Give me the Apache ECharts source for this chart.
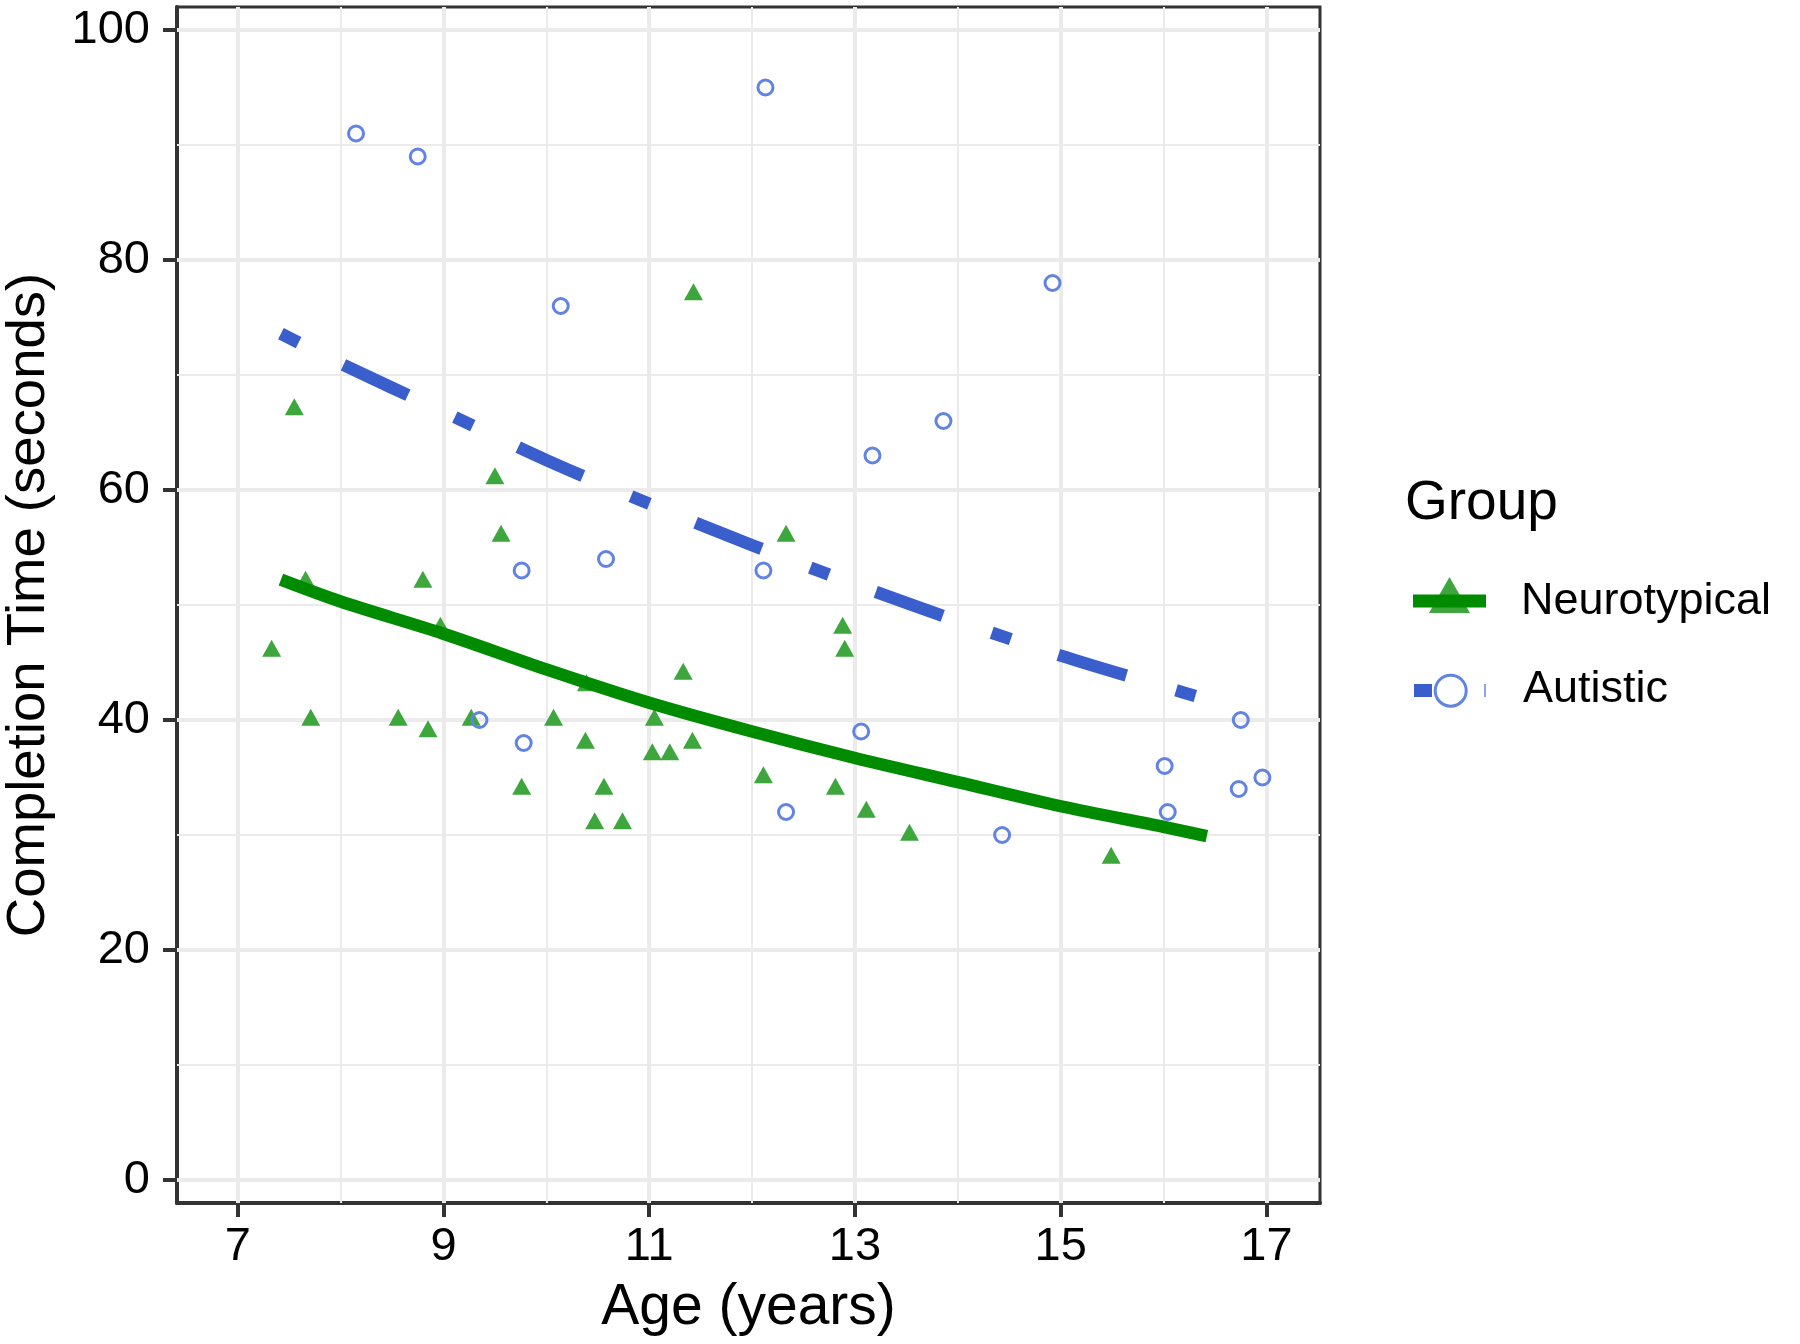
<!DOCTYPE html>
<html><head><meta charset="utf-8">
<script src="https://cdn.jsdelivr.net/npm/echarts@6/dist/echarts.min.js"></script>
<style>html,body{margin:0;padding:0;background:#fff}#c{width:1800px;height:1344px}</style>
</head><body><div id="c"></div>
<script>
// Neurotypical (triangles)
const ntAge  = [7.55, 11.43, 9.50, 9.56, 8.80, 7.66, 7.33, 7.71, 8.56, 8.85, 9.27, 8.97, 9.76, 10.07, 10.38, 10.39,
                10.56, 10.47, 10.74, 11.05, 11.03, 11.20, 11.33, 11.42, 12.88, 12.90, 12.11, 12.81, 13.11, 13.53, 15.49, 12.33];
const ntTime = [67, 77, 61, 56, 52, 52, 46, 40, 40, 39, 40, 48, 34, 40, 38, 43,
                34, 31, 31, 40, 37, 37, 44, 38, 48, 46, 35, 34, 32, 30, 28, 56];
// Autistic (open circles)
const auAge  = [8.15, 8.75, 12.13, 10.14, 14.92, 13.86, 13.17, 9.76, 10.58, 12.11, 9.35, 9.78, 13.06, 12.33, 14.43,
                16.01, 16.04, 16.75, 16.73, 16.96];
const auTime = [91, 89, 95, 76, 78, 66, 63, 53, 54, 53, 40, 38, 39, 32, 30, 36, 32, 40, 34, 35];
// fitted curves
const fitAge = [7.42, 8, 9, 10, 11, 12, 13, 14, 15, 16, 16.42];
const ntFit  = [52.2, 50.3, 47.5, 44.4, 41.5, 39.0, 36.7, 34.6, 32.5, 30.7, 29.9];
const auFit  = [73.6, 71.0, 66.8, 62.6, 58.8, 55.2, 51.8, 48.6, 45.6, 42.9, 41.8];
// ticks
const xMajor = [7, 9, 11, 13, 15, 17];
const xMinor = [8, 10, 12, 14, 16];
const yMajor = [0, 20, 40, 60, 80, 100];
const yMinor = [10, 30, 50, 70, 90];

const FONT = '"Liberation Sans", Arial, Helvetica, sans-serif';
const zip = (a, b) => a.map((v, i) => [v, b[i]]);

const gridLines = [];
xMinor.forEach(v => gridLines.push({xAxis: v, lineStyle: {width: 2}}));
yMinor.forEach(v => gridLines.push({yAxis: v, lineStyle: {width: 2}}));
xMajor.forEach(v => gridLines.push({xAxis: v, lineStyle: {width: 4}}));
yMajor.forEach(v => gridLines.push({yAxis: v, lineStyle: {width: 4}}));

const chart = echarts.init(document.getElementById('c'), null, {renderer: 'canvas'});
chart.setOption({
  animation: false,
  backgroundColor: '#fff',
  textStyle: {fontFamily: FONT},
  grid: {left: 177, right: 480, top: 7, bottom: 141, containLabel: false, outerBoundsMode: 'none',
         show: true, borderColor: '#333', borderWidth: 3, backgroundColor: 'transparent'},
  xAxis: {
    type: 'value', min: 6.41, max: 17.52,
    name: 'Age (years)', nameLocation: 'middle', nameGap: 77,
    nameTextStyle: {fontSize: 57, color: '#000', fontFamily: FONT},
    axisLine: {show: true, onZero: false, lineStyle: {color: '#333', width: 4}},
    axisTick: {show: true, customValues: xMajor, length: 14, lineStyle: {color: '#333', width: 4}},
    axisLabel: {customValues: xMajor, margin: 21, fontSize: 47, color: '#000', fontFamily: FONT},
    splitLine: {show: false}
  },
  yAxis: {
    type: 'value', min: -2, max: 102,
    name: 'Completion Time (seconds)', nameLocation: 'middle', nameGap: 121,
    nameTextStyle: {fontSize: 54.5, color: '#000', fontFamily: FONT},
    axisLine: {show: true, onZero: false, lineStyle: {color: '#333', width: 4}},
    axisTick: {show: true, customValues: yMajor, length: 14, lineStyle: {color: '#333', width: 4}},
    axisLabel: {customValues: yMajor, margin: 27, fontSize: 47, color: '#000', fontFamily: FONT},
    splitLine: {show: false}
  },
  series: [
    {
      type: 'line', data: [], z: 1, silent: true,
      markLine: {
        z: 1, silent: true, symbol: ['none', 'none'], animation: false,
        label: {show: false},
        lineStyle: {color: '#EBEBEB', type: 'solid'},
        emphasis: {disabled: true},
        data: gridLines
      }
    },
    {
      name: 'Neurotypical', type: 'scatter', z: 6,
      data: zip(ntAge, ntTime),
      symbol: 'triangle', symbolSize: [19, 17], symbolOffset: [0, -2.8],
      itemStyle: {color: '#3DA63D', opacity: 1}
    },
    {
      name: 'Autistic', type: 'scatter', z: 7,
      data: zip(auAge, auTime),
      symbol: 'circle', symbolSize: 15,
      itemStyle: {color: 'rgba(255,255,255,0)', borderColor: '#6183E4', borderWidth: 3, opacity: 1}
    },
    {
      name: 'Neurotypical fit', type: 'line', z: 8,
      data: zip(fitAge, ntFit), smooth: 0.3, showSymbol: false, symbol: 'none',
      lineStyle: {color: '#008B00', width: 12.5, cap: 'butt'}
    },
    {
      name: 'Autistic fit', type: 'line', z: 8,
      data: zip(fitAge, auFit), smooth: 0.3, showSymbol: false, symbol: 'none',
      lineStyle: {color: '#3A5FCD', width: 12.5, type: [20, 50, 71, 52], cap: 'butt'}
    }
  ],
  graphic: [
    {type: 'text', x: 1405, y: 504, style: {text: 'Group', fontSize: 55, fontFamily: FONT, fill: '#000', verticalAlign: 'middle', align: 'left'}},
    {type: 'polygon', shape: {points: [[1449.5, 577], [1470, 613], [1429, 613]]}, style: {fill: '#3DA63D'}},
    {type: 'rect', shape: {x: 1413, y: 594.5, width: 73, height: 13}, style: {fill: '#008B00'}},
    {type: 'text', x: 1521, y: 602, style: {text: 'Neurotypical', fontSize: 45, fontFamily: FONT, fill: '#000', verticalAlign: 'middle', align: 'left'}},
    {type: 'rect', shape: {x: 1414, y: 684, width: 18, height: 13}, style: {fill: '#3A5FCD'}},
    {type: 'circle', shape: {cx: 1450.7, cy: 690.7, r: 15.5}, style: {fill: 'none', stroke: '#6183E4', lineWidth: 3}},
    {type: 'rect', shape: {x: 1484, y: 684, width: 2, height: 13}, style: {fill: '#8FA3E6'}},
    {type: 'text', x: 1523, y: 690, style: {text: 'Autistic', fontSize: 45, fontFamily: FONT, fill: '#000', verticalAlign: 'middle', align: 'left'}}
  ]
});
</script>
</body></html>
